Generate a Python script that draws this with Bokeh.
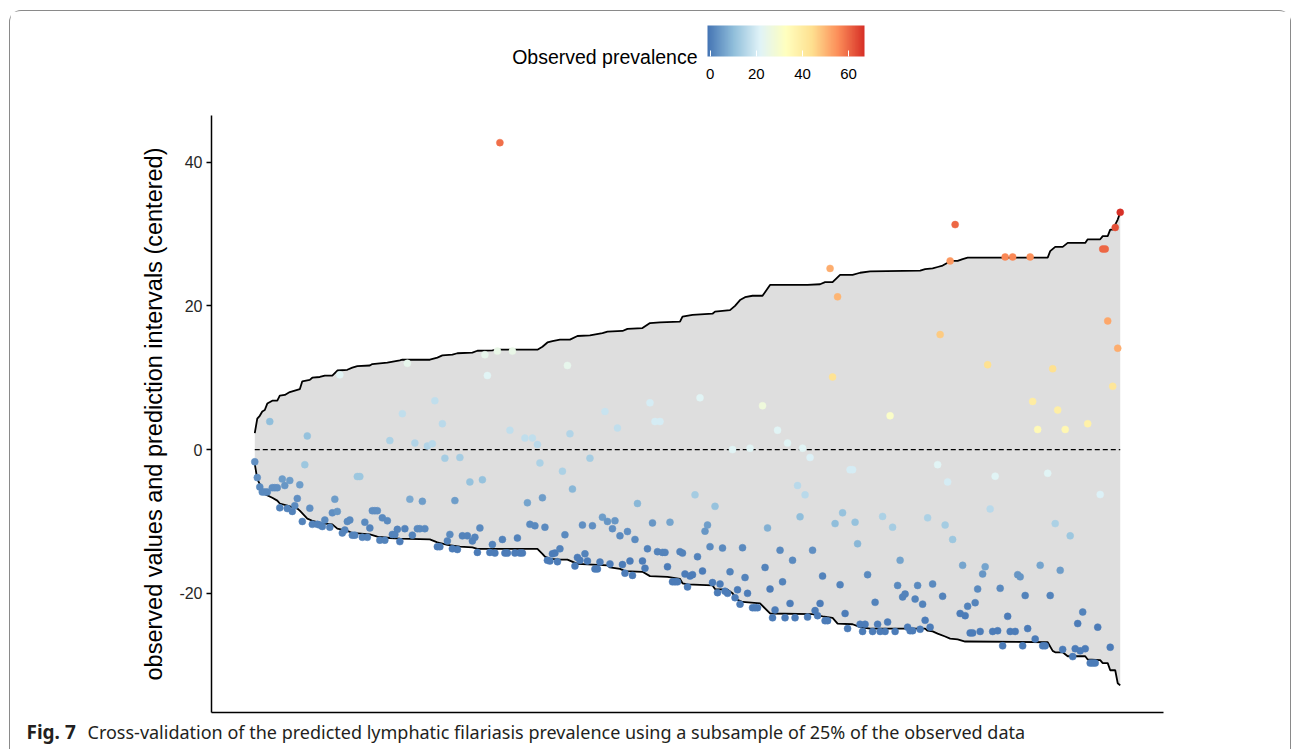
import numpy as np
from bokeh.plotting import figure
from bokeh.models import (ColumnDataSource, LinearColorMapper, ColorBar, FixedTicker, Range1d)
from bokeh.layouts import column
from bokeh.embed import file_html
from bokeh.resources import INLINE
from bokeh.core.properties import value

# ---------------- data ----------------
# prediction-interval bounds (centered), by observation rank
upper_rank = [1,2,3,4,5,6,8,10,11,13, 15,17,19,20,23,24,27,29,32,34,
              38,40,42,47,48,54,59,60,71,74, 76,80,82,88,90,96,98,114,116,118,
              120,123,127,130,135,140,142,148,150,156, 159,163,171,172,176,184,185,191,193,195,
              197,200,204,207,222,227,229,232,235,240, 243,247,267,269,272,274,276,278,280,282,
              284,286,318,319,321,324,326,333,334,339, 340,342,343,344,346,347]
upper_val = [2.3,4.3,4.7,5.3,5.5,6.4,6.8,6.8,7.5,7.6, 8.0,8.2,8.4,9.5,9.7,10.0,10.1,10.3,10.3,11.0,
             11.1,11.4,11.6,11.7,11.9,12.1,12.4,12.5,12.5,12.8, 13.1,13.2,13.4,13.5,13.75,13.8,13.9,13.9,14.3,14.9,
             15.1,15.3,15.3,15.8,15.9,16.2,16.4,16.5,16.8,16.9, 17.6,17.7,17.8,18.5,18.75,18.9,19.2,19.4,20.0,20.8,
             21.2,21.4,21.4,22.9,22.9,23.0,23.3,23.3,24.3,24.3, 24.6,24.8,24.9,25.1,25.2,25.4,25.6,26.0,26.25,26.25,
             26.5,26.7,26.7,27.6,28.2,28.2,28.75,28.75,29.25,29.25, 29.7,29.7,30.6,30.6,32.0,33.0]
lower_rank = [1,2,3,5,8,10,11,14,18,19, 22,24,26,29,32,34,38,40,47,50,
              55,59,71,74,78,83,88,90,114,116, 117,119,123,126,130,142,143,147,149,156,
              159,166,171,172,174,184,185,190,192,194, 196,203,207,224,228,232,234,240,243,247,
              269,270,272,274,277,279,282,285,318,320, 321,324,326,333,334,339,340,342,343,345,
              346,347]
lower_val = [-2.0,-4.1,-4.8,-6.2,-6.7,-7.1,-7.5,-7.8,-8.2,-8.5, -9.6,-9.9,-10.1,-10.3,-10.4,-11.0,-11.3,-11.6,-11.8,-12.1,
             -12.3,-12.4,-12.5,-12.9,-13.25,-13.5,-13.6,-13.8,-13.8,-14.5, -14.9,-15.2,-15.3,-15.3,-15.9,-16.1,-16.4,-16.6,-16.9,-17.0,
             -17.6,-17.7,-18.0,-18.6,-18.75,-18.9,-19.4,-19.5,-20.0,-20.9, -21.2,-21.4,-22.8,-22.9,-23.2,-23.4,-24.2,-24.3,-24.7,-24.9,
             -24.9,-25.2,-25.3,-25.6,-26.0,-26.3,-26.4,-26.7,-26.8,-28.0, -28.2,-28.2,-28.75,-28.75,-29.2,-29.3,-29.7,-29.7,-30.7,-30.7,
             -32.5,-32.8]

# observed values (centered) and observed prevalence
point_rank = [1,2,3,4,5,6,7,8,9,10,
              11,12,13,14,15,16,17,18,19,20,
              21,22,23,24,26,27,28,29,31,32,
              33,34,35,36,37,38,39,40,41,42,
              43,44,45,46,47,48,49,50,51,52,
              53,54,55,56,57,58,59,60,61,62,
              63,64,65,66,67,68,69,70,72,73,
              74,75,76,77,78,79,80,81,82,83,
              84,86,87,88,89,90,91,92,93,94,
              95,96,97,98,99,100,101,102,103,104,
              105,106,107,108,109,110,111,112,113,114,
              115,116,117,118,119,120,121,122,123,124,
              125,126,127,128,129,130,131,132,133,134,
              135,136,137,138,139,140,141,142,143,144,
              145,146,147,148,149,150,151,152,153,154,
              156,157,158,159,160,161,162,163,164,165,
              166,167,168,169,170,171,172,173,174,175,
              176,177,178,179,180,181,182,183,184,185,
              186,187,188,189,190,191,192,193,194,195,
              196,197,198,199,200,201,202,204,205,206,
              207,208,209,210,211,212,213,214,215,216,
              217,218,219,220,221,222,223,224,225,226,
              227,228,229,230,231,232,233,234,235,236,
              237,238,239,240,241,242,243,244,245,246,
              248,249,250,251,252,253,254,255,256,257,
              258,259,260,261,262,263,264,265,266,267,
              268,269,270,271,272,274,275,276,277,278,
              279,280,281,283,284,285,286,287,288,289,
              290,291,292,293,294,295,296,297,298,299,
              300,301,302,303,304,305,306,307,308,309,
              310,311,312,313,314,315,316,317,318,319,
              320,321,322,323,324,325,327,328,329,330,
              331,332,333,334,335,336,337,338,339,340,
              341,342,343,344,345,346,347]
point_value = [-1.7,-3.9,-5.2,-5.9,-5.9,-5.9,3.9,-5.3,-5.3,-5.3,
               -8.1,-4.1,-5.0,-8.2,-4.3,-8.6,-7.8,-6.8,-4.9,-10.0,
               -2.1,1.9,-8.15,-10.4,-10.4,-10.5,-10.7,-9.8,-10.8,-8.8,
               -6.9,-8.6,10.4,-11.6,-11.2,-10.0,-9.8,-11.9,-11.9,-3.75,
               -3.75,-12.2,-10.1,-12.2,-10.9,-8.5,-8.5,-8.5,-12.6,-9.5,
               -12.6,-9.9,1.25,-11.8,-11.8,-11.1,-12.8,5.0,-11.0,12.0,
               -6.9,-11.9,0.9,-11.0,-11.0,-7.2,-11.0,0.5,0.8,6.8,
               -13.5,-13.5,3.6,-1.2,-12.7,-11.8,-13.8,-7.1,-13.9,-1.1,
               -12.0,-12.0,-4.5,-12.7,-12.2,-14.3,-10.9,-4.2,13.2,10.3,
               -14.3,-13.2,-14.4,13.7,42.7,-12.5,-14.4,-14.4,2.7,13.7,
               -14.4,-12.3,-14.4,-14.4,1.6,-7.4,-10.4,1.6,-10.6,0.7,
               -1.85,-6.7,-10.8,-15.4,-15.5,-14.5,-14.4,-15.6,-13.8,-3.0,
               -11.85,11.7,2.2,-5.5,-16.2,-15.0,-15.4,-10.5,-14.5,-15.5,
               -1.2,-10.6,-16.6,-16.6,-15.65,-9.4,5.3,-10.0,-15.9,-11.0,
               -9.9,3.0,-12.0,-16.0,-17.2,-11.4,-15.5,-17.5,-12.5,-7.5,
               -15.5,-16.5,-13.8,6.5,-10.2,3.9,-14.2,3.9,-14.3,-14.3,
               -16.3,-10.1,-18.4,-18.4,-18.4,-14.2,-14.4,-17.3,-19.1,-17.6,
               -17.4,-6.3,-14.9,7.2,-16.9,-11.35,-10.5,-13.5,-18.5,-7.9,
               -19.9,-18.7,-13.7,-19.7,-20.0,-17.0,0.0,-20.6,-19.5,-21.5,
               -13.65,-17.8,-20.0,0.2,-22.0,-22.0,-22.0,6.1,-16.4,-10.9,
               -19.4,-23.4,-22.3,2.7,-14.0,-18.4,-23.4,0.9,-21.4,-15.4,
               -23.4,-5.0,-9.35,0.2,-6.3,-23.3,-1.1,-14.0,-22.4,-23.1,
               -21.4,-17.6,-23.8,-23.8,25.2,10.1,-10.3,21.25,-18.8,-8.8,
               -22.8,-24.9,-2.8,-2.8,-10.1,-13.1,-24.3,-25.3,-24.3,-17.4,
               -25.3,-21.25,-24.3,-25.3,-9.3,-25.3,-24.0,4.7,-10.8,-25.3,
               -18.9,-15.4,-20.5,-20.1,-24.7,-25.2,-25.2,-20.8,-18.9,-25.0,
               -21.5,-23.75,-9.5,-24.7,-18.7,-2.1,16.0,-20.4,-10.5,-4.5,
               26.25,-12.5,31.3,-22.8,-16.1,-23.1,-21.8,-25.5,-25.5,-21.3,
               -19.4,-25.3,-17.3,-16.3,11.8,-8.25,-25.3,-3.7,-25.2,-19.3,
               -27.3,26.8,-23.2,-25.3,26.8,-25.3,-17.4,-17.7,-27.3,-20.3,
               -24.9,26.8,6.7,-26.35,2.8,-16.1,-27.3,-27.3,-3.3,-20.3,
               11.25,-10.3,5.5,-16.8,-27.8,2.8,-12.0,-28.8,-27.7,-24.2,
               -28.0,-22.6,-27.7,3.6,-29.7,-29.7,-29.7,-24.7,-6.25,27.9,
               27.9,17.9,-27.5,8.8,30.9,14.1,33.0]
point_prev = [3,3,2,2,2,2,10,3,3,3,
              1,5,4,1,5,1,2,3,5,1,
              12,11,3,1,1,1,1,2,1,3,
              5,4,22,1,1,2,2,1,1,12,
              12,1,2,1,1,3,3,3,1,2,
              1,2,14,1,1,1,0,17,1,24,
              7,1,15,2,2,5,2,15,16,17,
              0,0,16,13,1,2,0,5,0,13,
              1,1,11,1,1,0,2,11,24,22,
              0,1,0,25,59,1,0,0,17,25,
              0,1,0,0,17,6,2,17,2,16,
              14,5,2,0,0,0,0,0,1,14,
              2,24,15,9,0,0,0,3,1,0,
              13,3,0,0,0,5,18,4,0,3,
              4,17,2,0,0,3,0,0,2,9,
              0,0,1,20,4,20,1,20,1,1,
              0,6,0,0,0,1,1,0,0,0,
              0,13,1,22,0,4,5,2,0,11,
              0,0,2,0,0,1,22,0,0,0,
              2,1,0,22,0,0,0,27,1,8,
              0,0,0,22,2,1,0,22,0,2,
              0,16,10,22,16,0,21,3,0,0,
              0,1,0,0,51,43,10,50,1,11,
              0,0,20,20,11,9,0,0,0,2,
              0,1,0,0,14,0,0,31,13,0,
              2,6,1,1,0,0,0,1,2,0,
              1,0,14,0,2,22,47,1,13,20,
              54,12,60,0,6,0,1,0,0,1,
              2,0,4,6,44,16,0,22,0,2,
              0,56,0,0,56,0,4,4,0,1,
              0,55,40,0,35,6,0,0,22,1,
              44,14,39,5,0,36,12,0,0,0,
              0,1,0,38,0,0,0,0,21,60,
              60,52,0,42,63,51,67]

prev_limits = [-1.2, 66.9]
cbar_ticks = [0, 20, 40, 60]
y_ticks = [-20, 0, 20, 40]

assert len(point_rank) == len(point_value) == len(point_prev)
assert len(upper_rank) == len(upper_val) and len(lower_rank) == len(lower_val)

# ---------------- style helpers ----------------
FONT = "Liberation Sans"
stops = ["#4575b4", "#91bfdb", "#e0f3f8", "#ffffbf", "#fee090", "#fc8d59", "#d73027"]

def make_palette(stops, n=256):
    rgb = [tuple(int(s[i:i + 2], 16) for i in (1, 3, 5)) for s in stops]
    out = []
    for k in range(n):
        t = k / (n - 1) * (len(stops) - 1)
        i = min(int(t), len(stops) - 2)
        f = t - i
        c = [round(rgb[i][j] + (rgb[i + 1][j] - rgb[i][j]) * f) for j in range(3)]
        out.append("#%02x%02x%02x" % tuple(c))
    return out

mapper = LinearColorMapper(palette=make_palette(stops), low=prev_limits[0], high=prev_limits[1])

W = 1280
FRAME_L, FRAME_R = 211, 1163   # page x of the aligned plot frames

# ---------------- header (colour bar) ----------------
header = figure(width=W, height=89, x_range=Range1d(FRAME_L, FRAME_R), y_range=Range1d(89, 0),
                toolbar_location=None, output_backend="svg", min_border=0,
                outline_line_color=None)
header.axis.visible = False
header.grid.visible = False
header.text(x=[697], y=[45], text=["Observed prevalence"], text_align="right",
            text_baseline="middle", text_font=value(FONT), text_font_size="19.5px",
            text_color="black")
cb = ColorBar(color_mapper=mapper, orientation="horizontal", location=(496, 19),
              width=157, height=31, padding=0, margin=0,
              ticker=FixedTicker(ticks=cbar_ticks),
              major_label_text_font=FONT, major_label_text_font_size="15px",
              major_label_text_color="black",
              major_tick_line_color="white", major_tick_in=6, major_tick_out=0,
              minor_tick_line_color=None,
              bar_line_color=None, border_line_color=None, background_fill_alpha=0,
              label_standoff=12)
header.add_layout(cb, "center")

# ---------------- main panel ----------------
span_x = max(point_rank) - min(point_rank)
x0, x1 = min(point_rank) - 0.05 * span_x, max(point_rank) + 0.05 * span_x
ymin = min(min(lower_val), min(point_value))
ymax = max(max(upper_val), max(point_value))
span_y = ymax - ymin
y0, y1 = ymin - 0.05 * span_y, ymax + 0.05 * span_y

p = figure(width=W, height=617, x_range=Range1d(x0, x1), y_range=Range1d(y0, y1),
           toolbar_location=None, output_backend="svg",
           min_border_left=201, min_border_right=127, min_border_top=15, min_border_bottom=5,
           outline_line_color=None, background_fill_color="white", border_fill_color="white")
p.grid.visible = False

ribbon_x = upper_rank + lower_rank[::-1]
ribbon_y = upper_val + lower_val[::-1]
p.patch(ribbon_x, ribbon_y, fill_color="#dedede", line_color=None)
p.line(upper_rank, upper_val, line_color="black", line_width=1.8)
p.line(lower_rank, lower_val, line_color="black", line_width=1.8)
p.line([min(point_rank), max(point_rank)], [0, 0], line_color="black", line_width=1.1,
       line_dash="5 3")

src = ColumnDataSource(dict(rank=point_rank, val=point_value, prev=point_prev))
p.scatter("rank", "val", source=src, size=7,
          fill_color={"field": "prev", "transform": mapper},
          line_color={"field": "prev", "transform": mapper}, line_width=0.5)

yax = p.yaxis[0]
yax.ticker = FixedTicker(ticks=y_ticks)
yax.major_label_overrides = {t: ("-%d" % abs(t) if t < 0 else str(t)) for t in y_ticks}
yax.major_label_text_font = FONT
yax.major_label_text_font_size = "16px"
yax.major_label_text_color = "#262626"
yax.major_tick_out = 5
yax.major_tick_in = 0
yax.major_tick_line_width = 1.3
yax.minor_tick_line_color = None
yax.major_label_standoff = 4
yax.axis_line_width = 1.5
yax.axis_label = "observed values and prediction intervals (centered)"
yax.axis_label_text_font = FONT
yax.axis_label_text_font_size = "23.5px"
yax.axis_label_text_font_style = "normal"
yax.axis_label_text_color = "black"
yax.axis_label_standoff = 9

xax = p.xaxis[0]
xax.ticker = FixedTicker(ticks=[])
xax.major_tick_line_color = None
xax.minor_tick_line_color = None
xax.major_label_text_font_size = "0px"
xax.major_label_standoff = 0
xax.axis_line_width = 1.5

# ---------------- caption ----------------
cap = figure(width=W, height=32, x_range=Range1d(0, W), y_range=Range1d(32, 0),
             toolbar_location=None, output_backend="svg", min_border=0,
             outline_line_color=None)
try:
    cap.frame_align = False
except Exception:
    pass
cap.axis.visible = False
cap.grid.visible = False
cap.text(x=[16], y=[14], text=["Fig. 7"], text_baseline="middle",
         text_font=value("Noto Sans"), text_font_size="19px", text_font_style="bold",
         text_color="#231f20")
cap.text(x=[77], y=[14],
         text=["Cross-validation of the predicted lymphatic filariasis prevalence using a subsample of 25% of the observed data"],
         text_baseline="middle", text_font=value("Noto Sans"), text_font_size="18px",
         text_color="#231f20")

layout = column(header, p, cap, margin=(10, 0, 0, 9),
                styles={"border-top": "1px solid #8a8a8a", "border-left": "1px solid #8a8a8a",
                        "border-right": "1px solid #8a8a8a",
                        "border-radius": "12px 12px 0 0"})

open("out.html", "w").write(file_html(layout, INLINE))
